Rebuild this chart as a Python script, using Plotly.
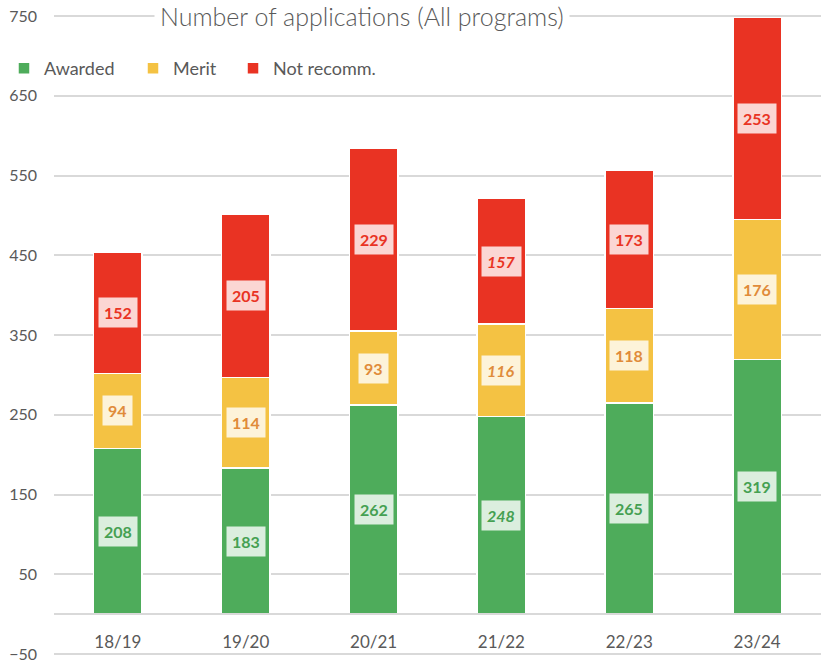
import plotly.graph_objects as go

categories = ["18/19", "19/20", "20/21", "21/22", "22/23", "23/24"]
awarded = [208, 183, 262, 248, 265, 319]
merit = [94, 114, 93, 116, 118, 176]
not_recomm = [152, 205, 229, 157, 173, 253]
italic_categories = ["21/22"]

series = [
    ("Awarded", awarded, "#4EAC5B", "#45A052", "legend"),
    ("Merit", merit, "#F4C243", "#E08B3A", "legend2"),
    ("Not recomm.", not_recomm, "#E93323", "#E93323", "legend3"),
]

FONT = "Lato"
GRAY = "#595959"
Y_RANGE = [-52.5, 752.5]

fig = go.Figure()
for name, vals, color, _, leg in series:
    fig.add_trace(go.Bar(
        x=categories, y=vals, name=name, legend=leg, showlegend=True,
        marker=dict(color=color, line=dict(color="white", width=1.5)),
        hoverinfo="skip",
    ))

annotations = []
base = [0] * len(categories)
for name, vals, color, tcolor, _ in series:
    for i, (c, v) in enumerate(zip(categories, vals)):
        txt = f"<b>{v}</b>"
        if c in italic_categories:
            txt = f"<i>{txt}</i>"
        annotations.append(dict(
            x=c, y=base[i] + v / 2, xref="x", yref="y",
            text=txt, showarrow=False,
            font=dict(family=FONT, size=16, color=tcolor),
            bgcolor="rgba(255,255,255,0.8)", borderpad=5,
        ))
        base[i] += v

annotations.append(dict(
    x=0.402, y=750, xref="paper", yref="y",
    xanchor="center", yanchor="middle",
    text="Number of applications (All programs)", showarrow=False,
    font=dict(family=FONT, size=25, color=GRAY, weight=300),
    bgcolor="white", borderpad=5,
))

legend_style = dict(
    orientation="h", xanchor="left", y=0.915, yanchor="middle",
    font=dict(family=FONT, size=18, color=GRAY),
    bgcolor="rgba(0,0,0,0)",
)

fig.update_layout(
    barmode="stack",
    bargap=0.62,
    width=821, height=662,
    margin=dict(l=54, r=0, t=14, b=6),
    plot_bgcolor="white", paper_bgcolor="white",
    font=dict(family=FONT, size=16, color=GRAY),
    annotations=annotations,
    showlegend=True,
    legend=dict(x=-0.0652, **legend_style),
    legend2=dict(x=0.103, **legend_style),
    legend3=dict(x=0.2334, **legend_style),
    yaxis=dict(
        range=Y_RANGE, tick0=-50, dtick=100,
        showgrid=True, gridcolor="#D9D9D9", gridwidth=1.5,
        zeroline=False, ticks="", ticklabelstandoff=16,
        ticklabeloverflow="allow",
        tickfont=dict(family=FONT, size=16, color=GRAY),
        automargin=False,
    ),
    xaxis=dict(
        anchor="free", position=-Y_RANGE[0] / (Y_RANGE[1] - Y_RANGE[0]),
        showline=True, linecolor="#D9D9D9", linewidth=2,
        ticks="", ticklabelstandoff=12,
        tickfont=dict(family=FONT, size=17, color=GRAY),
        automargin=False,
    ),
)

fig.write_html("out.html", config={"displayModeBar": False},
               post_script="document.body.style.margin='0';")
